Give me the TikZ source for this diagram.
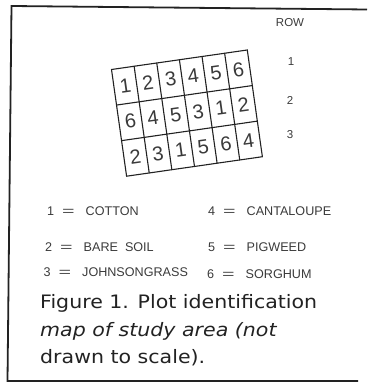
\documentclass[tikz,border=0pt]{standalone}
\usepackage{graphicx}
\usepackage{fontspec}
\setmainfont{Liberation Sans}
\newfontfamily\capfont[FakeStretch=1.11]{DejaVu Sans}
\definecolor{ink}{HTML}{222222}
\definecolor{leg}{HTML}{3A3A3A}
\tikzset{
  frameline/.style={line width=1.8pt, draw=ink, line join=miter},
  gridline/.style={line width=1.1pt, draw=ink, line cap=round},
  celltext/.style={font=\fontsize{20}{20}\selectfont, text=leg, rotate=8, inner sep=0pt},
  legtext/.style={font=\fontsize{12.6}{14}\selectfont, text=leg, inner sep=0pt, anchor=base west},
  rowtext/.style={font=\fontsize{11.5}{13}\selectfont, text=leg, inner sep=0pt, anchor=base},
  captext/.style={font=\capfont\fontsize{18.5}{27.5}\selectfont, text=ink, inner sep=0pt, anchor=base west}
}
\begin{document}
\begin{tikzpicture}[x=1pt,y=-1pt]
\useasboundingbox (0,0) rectangle (367,385);
% frame (right side not shown)
\draw[frameline] (367,9.5) -- (11.5,6) -- (7.5,381) -- (358,381);

% plot grid
\begin{scope}[shift={(111.5,69.5)}, x={(22.63pt,3.25pt)}, y={(5.03pt,-35.57pt)}]
  \foreach \i in {0,...,6} { \draw[gridline] (\i,0) -- (\i,3); }
  \foreach \j in {0,...,3} { \draw[gridline] (0,\j) -- (6,\j); }
  \foreach \r/\vals in {0/{1,2,3,4,5,6}, 1/{6,4,5,3,1,2}, 2/{2,3,1,5,6,4}}{
    \foreach \v [count=\c from 0] in \vals {
      \node[celltext] (c\r\c) at (\c+0.5,\r+0.5) {\v};
    }
  }
\end{scope}

% row labels
\node[rowtext] (row) at (290,27) {ROW};
\node[rowtext] (r1) at (291,66) {1};
\node[rowtext] (r2) at (290,105) {2};
\node[rowtext] (r3) at (290,139) {3};

% legend
\foreach \d/\name/\x/\y in {1/COTTON/47/215.5, 2/BARE\ \ SOIL/45/251, 3/JOHNSONGRASS/43.5/276.5,
                            4/CANTALOUPE/208/215.5, 5/PIGWEED/208/251, 6/SORGHUM/207/278}{
  \node[legtext] (dig\d) at (\x,\y) {\d};
  \node[legtext, anchor=base] (eq\d) at (\x+21.5,\y) {\scalebox{1.7}[1]{=}};
  \node[legtext] (lab\d) at (\x+38.5,\y) {\name};
}

% caption
\node[captext] (cap1) at (40,308) {Figure 1. Plot identification};
\node[captext] (cap2) at (40,336) {\itshape map of study area (not};
\node[captext] (cap3) at (40,363) {drawn to scale).};
\end{tikzpicture}
\end{document}
